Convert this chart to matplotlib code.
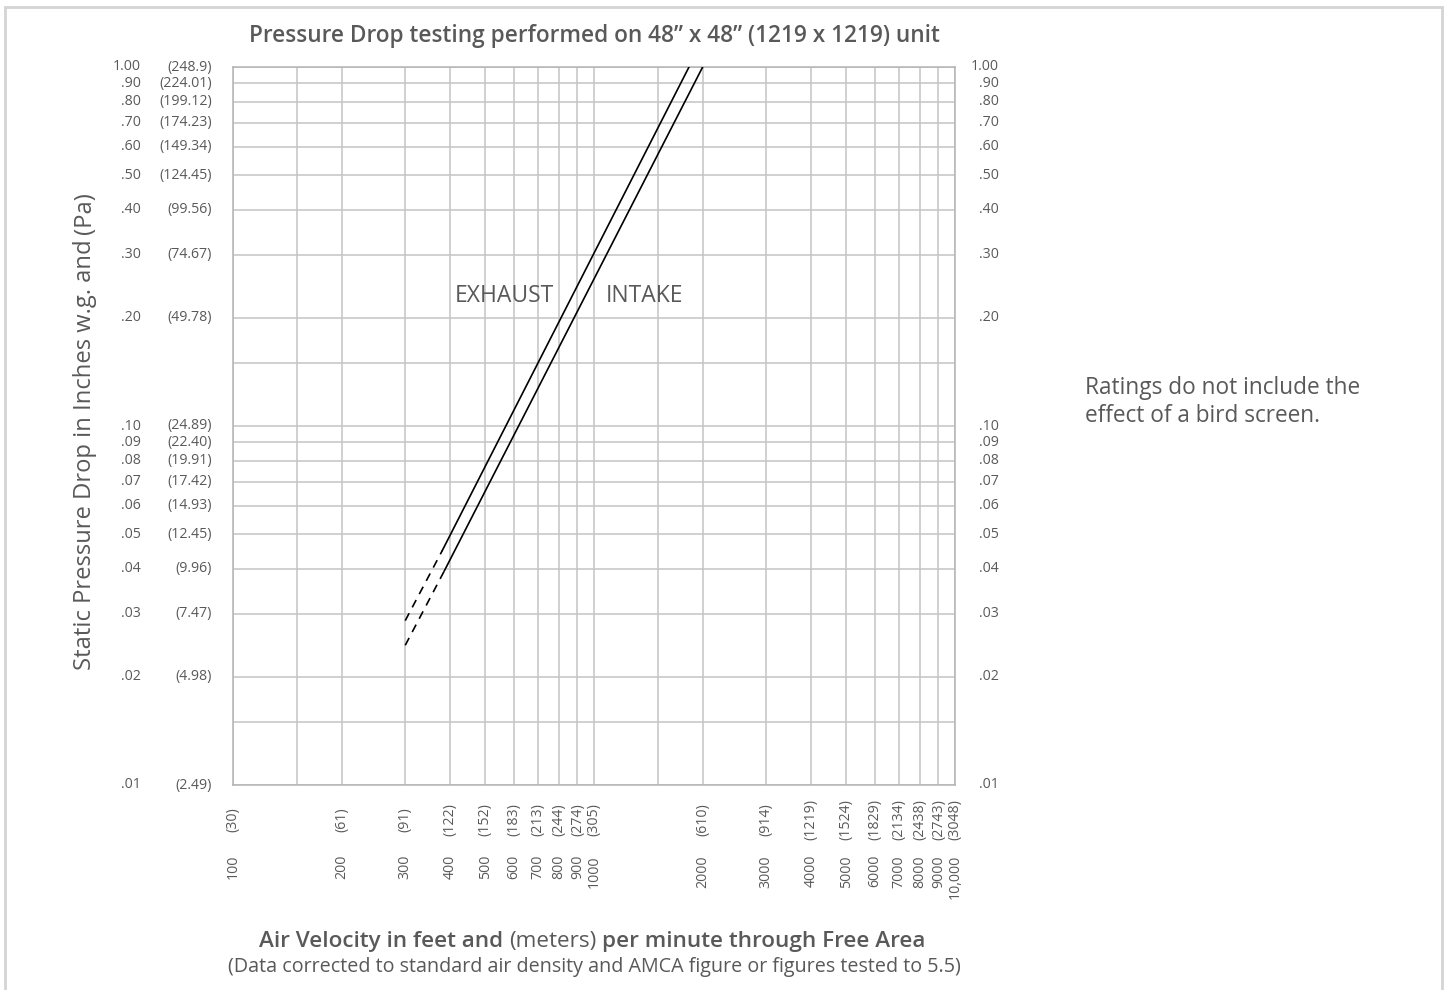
import matplotlib
matplotlib.use("Agg")
import matplotlib.pyplot as plt
from matplotlib.patches import Rectangle

plt.rcParams['font.family'] = ['Open Sans', 'DejaVu Sans']

# ======================
# Grid values
# ======================
x_grid = [100, 150, 200, 300, 400, 500, 600, 700, 800, 900, 1000,
          1500, 2000, 3000, 4000, 5000, 6000, 7000, 8000, 9000, 10000]
y_grid = [0.01, 0.015, 0.02, 0.03, 0.04, 0.05, 0.06, 0.07, 0.08, 0.09, 0.10,
          0.15, 0.20, 0.30, 0.40, 0.50, 0.60, 0.70, 0.80, 0.90, 1.00]

# ======================
# Tick labels
# ======================
fpm_ticks = [100, 200, 300, 400, 500, 600, 700, 800, 900, 1000,
             2000, 3000, 4000, 5000, 6000, 7000, 8000, 9000, 10000]
fpm_labels = ["100", "200", "300", "400", "500", "600", "700", "800", "900", "1000",
              "2000", "3000", "4000", "5000", "6000", "7000", "8000", "9000", "10,000"]
mpm_labels = ["(30)", "(61)", "(91)", "(122)", "(152)", "(183)", "(213)", "(244)", "(274)", "(305)",
              "(610)", "(914)", "(1219)", "(1524)", "(1829)", "(2134)", "(2438)", "(2743)", "(3048)"]

in_ticks = [0.01, 0.02, 0.03, 0.04, 0.05, 0.06, 0.07, 0.08, 0.09, 0.10,
            0.20, 0.30, 0.40, 0.50, 0.60, 0.70, 0.80, 0.90, 1.00]
in_labels = [".01", ".02", ".03", ".04", ".05", ".06", ".07", ".08", ".09", ".10",
             ".20", ".30", ".40", ".50", ".60", ".70", ".80", ".90", "1.00"]
pa_labels = ["(2.49)", "(4.98)", "(7.47)", "(9.96)", "(12.45)", "(14.93)", "(17.42)", "(19.91)",
             "(22.40)", "(24.89)", "(49.78)", "(74.67)", "(99.56)", "(124.45)", "(149.34)",
             "(174.23)", "(199.12)", "(224.01)", "(248.9)"]

# ======================
# Curves (velocity fpm, pressure in. w.g.)
# first segment is dashed (extrapolated)
# ======================
exhaust_v = [300, 380, 1833]
exhaust_p = [0.0287, 0.045, 1.0]
intake_v = [300, 385, 2000]
intake_p = [0.0245, 0.0395, 1.0]

TEXT = "#595959"
GRID = "#c4c4c4"

W, H = 1447, 990
fig = plt.figure(figsize=(W / 100, H / 100), dpi=100)
ax = fig.add_axes([233 / W, 1 - 785 / H, 722 / W, 718 / H])

ax.set_xscale("log")
ax.set_yscale("log")
ax.set_xlim(100, 10000)
ax.set_ylim(0.01, 1.0)

for xv in x_grid:
    ax.axvline(xv, color=GRID, lw=1.1, zorder=1)
for yv in y_grid:
    ax.axhline(yv, color=GRID, lw=1.1, zorder=1)
ax.set_xticks([])
ax.set_yticks([])
ax.minorticks_off()
ax.tick_params(which="both", length=0, labelbottom=False, labelleft=False)
for s in ax.spines.values():
    s.set_color("#b4b4b4")
    s.set_linewidth(1.1)

# curves
ax.plot(exhaust_v[:2], exhaust_p[:2], color="black", lw=1.2, ls=(0, (5, 4)), zorder=3)
ax.plot(exhaust_v[1:], exhaust_p[1:], color="black", lw=1.2, zorder=3)
ax.plot(intake_v[:2], intake_p[:2], color="black", lw=1.2, ls=(0, (5, 4)), zorder=3)
ax.plot(intake_v[1:], intake_p[1:], color="black", lw=1.2, zorder=3)

ax.text(563, 0.230, "EXHAUST", fontsize=16.5, color=TEXT,
        ha="center", va="center", zorder=2)
ax.text(1384, 0.230, "INTAKE", fontsize=16.5, color=TEXT,
        ha="center", va="center", zorder=2)

# y tick labels (left: inches + Pa, right: inches)
yt = ax.get_yaxis_transform()
for v, a, b in zip(in_ticks, in_labels, pa_labels):
    ax.text(-0.1274, v, a, transform=yt, ha="right", va="center", fontsize=10.2, color=TEXT)
    ax.text(-0.029, v, b, transform=yt, ha="right", va="center", fontsize=10.2, color=TEXT)
    ax.text(1.061, v, a, transform=yt, ha="right", va="center", fontsize=10.2, color=TEXT)

# x tick labels (rotated)
xt = ax.get_xaxis_transform()
for v, a, b in zip(fpm_ticks, fpm_labels, mpm_labels):
    ax.text(v, -0.0487, b, transform=xt, rotation=90, ha="center", va="center",
            fontsize=10.2, color=TEXT)
    ax.text(v, -0.0975, a, transform=xt, rotation=90, ha="center", va="top",
            fontsize=10.2, color=TEXT)

fig.text(594 / W, 1 - 36 / H, "Pressure Drop testing performed on 48\u201d x 48\u201d (1219 x 1219) unit",
         ha="center", va="center", fontsize=16.3, fontweight="semibold", color=TEXT)

fig.text(1085 / W, 1 - 402 / H, "Ratings do not include the\neffect of a bird screen.",
         ha="left", va="center", fontsize=16.3, color=TEXT, linespacing=1.22)

fig.text(594 / W, 1 - 967 / H,
         "(Data corrected to standard air density and AMCA figure or figures tested to 5.5)",
         ha="center", va="center", fontsize=14.2, color=TEXT)

fig.canvas.draw()
r = fig.canvas.get_renderer()


def mixed_line(parts, xc, yc, size, vertical=False):
    arts = []
    for s, w in parts:
        if vertical:
            t = fig.text(0, 0, s, fontsize=size, fontweight=w, color=TEXT,
                         rotation=90, ha="center", va="bottom")
        else:
            t = fig.text(0, 0, s, fontsize=size, fontweight=w, color=TEXT,
                         ha="left", va="baseline")
        arts.append(t)
    gap = 0.26 * size * 100 / 72
    ext = [t.get_window_extent(r) for t in arts]
    sizes = [e.height if vertical else e.width for e in ext]
    total = sum(sizes) + gap * (len(arts) - 1)
    pos = (yc if vertical else xc) - total / 2
    for t, sz in zip(arts, sizes):
        if vertical:
            t.set_position((xc / W, pos / H))
        else:
            t.set_position((pos / W, yc / H))
        pos += sz + gap


mixed_line([("Air Velocity in feet and", "semibold"), ("(meters)", "normal"),
            ("per minute through Free Area", "semibold")], 592, H - 947, 16.2)
mixed_line([("Static Pressure Drop in Inches w.g. and", "normal"), ("(Pa)", "normal")],
           85, H - 431, 17.1, vertical=True)

# outer frame
fig.patches.append(Rectangle((5 / W, -0.05), 1437 / W, 1.05 - 6.5 / H, transform=fig.transFigure,
                             fill=False, edgecolor="#d4d4d4", lw=2))

fig.savefig("out.png", dpi=100)
